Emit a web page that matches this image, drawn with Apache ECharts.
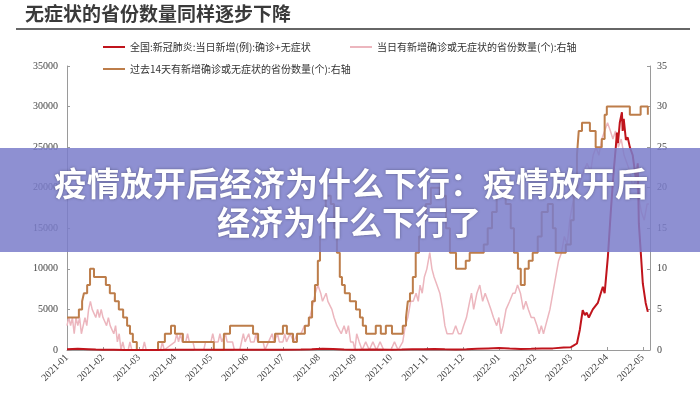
<!DOCTYPE html>
<html><head><meta charset="utf-8">
<script src="https://cdn.jsdelivr.net/npm/echarts@6/dist/echarts.min.js"></script>
<style>html,body{margin:0;padding:0;background:#fff}#c{width:700px;height:400px}</style>
</head><body><div id="c"></div>
<script>
// month tick labels (x positions are month index, 0 = 2021-01)
const months = ['2021-01','2021-02','2021-03','2021-04','2021-05','2021-06','2021-07','2021-08','2021-09','2021-10','2021-11','2021-12','2022-01','2022-02','2022-03','2022-04','2022-05'];

const nameRed = '全国:新冠肺炎:当日新增(例):确诊+无症状';
const nameOrange = '过去14天有新增确诊或无症状的省份数量(个):右轴';
const namePink = '当日有新增确诊或无症状的省份数量(个):右轴';

// national daily new cases (left axis)
const redData = [[0,80],[0.15,120],[0.3,150],[0.45,130],[0.6,100],[0.8,60],[1.0,30],[1.3,20],[1.6,10],[2.0,10],[2.5,15],[3.0,20],[3.5,25],[4.0,20],[4.5,30],[5.0,35],[5.5,40],[6.0,30],[6.5,50],[6.8,90],[7.1,140],[7.4,110],[7.7,60],[8.0,40],[8.5,50],[9.0,40],[9.3,50],[9.6,80],[9.9,100],[10.2,120],[10.5,90],[10.8,70],[11.1,100],[11.4,150],[11.7,200],[12.0,250],[12.3,180],[12.6,130],[12.9,150],[13.2,180],[13.5,200],[13.8,300],[14.0,350],[14.06,500],[14.17,800],[14.25,2500],[14.33,4900],[14.39,4300],[14.44,4600],[14.5,4000],[14.61,5000],[14.75,5800],[14.86,7400],[14.89,7800],[14.94,7000],[15.03,11500],[15.11,17000],[15.19,22000],[15.25,25000],[15.28,26800],[15.31,25500],[15.36,28000],[15.42,29300],[15.44,27000],[15.47,28500],[15.53,25900],[15.58,26200],[15.64,25000],[15.72,24000],[15.81,21000],[15.86,23000],[15.89,15600],[15.94,12300],[16.0,8200],[16.08,5800],[16.14,4700]];

// provinces with new cases in past 14 days (right axis, step)
const orangeData = [[0,4],[0.33,5],[0.42,6],[0.47,7],[0.56,8],[0.64,10],[0.75,9],[1.08,8],[1.19,7],[1.33,6],[1.44,5],[1.56,4],[1.67,3],[1.75,2],[1.83,1],[1.94,0],[2.53,1],[2.72,2],[2.89,3],[3.0,2],[3.22,1],[4.08,0],[4.36,2],[4.53,3],[5.17,2],[5.31,1],[5.78,2],[6.0,3],[6.11,2],[6.28,1],[6.39,2],[6.61,3],[6.72,4],[6.81,6],[6.89,8],[6.97,11],[7.03,14],[7.11,17],[7.19,19],[7.33,18],[7.42,15],[7.5,12],[7.58,9],[7.64,8],[7.72,7],[7.86,6],[8.03,5],[8.14,4],[8.22,3],[8.31,2],[8.58,3],[8.72,2],[8.86,3],[9.03,2],[9.33,3],[9.42,4],[9.47,6],[9.53,7],[9.61,9],[9.69,12],[9.78,14],[9.86,16],[9.97,18],[10.11,20],[10.36,19],[10.53,15],[10.64,12],[10.81,10],[11.08,11],[11.19,12],[11.58,13],[11.69,15],[11.81,17],[11.94,19],[12.19,18],[12.33,15],[12.42,12],[12.53,10],[12.61,8],[12.72,10],[12.83,11],[12.94,12],[13.08,14],[13.19,17],[13.36,18],[13.5,15],[13.58,12],[13.86,13],[14.0,16],[14.08,20],[14.17,24],[14.22,27],[14.31,28],[14.53,27],[14.69,25],[14.86,26],[14.94,29],[15.0,30],[15.64,29],[15.94,30],[16.14,29]];

// provinces with new cases that day (right axis)
const pinkData = [[0,3],[0.05,4],[0.1,3],[0.15,4],[0.2,2],[0.25,4],[0.3,3],[0.35,4],[0.4,2],[0.45,3],[0.5,4],[0.55,3],[0.6,5],[0.65,6],[0.7,5],[0.75,5],[0.8,4],[0.85,5],[0.9,4],[0.95,5],[1.0,4],[1.05,4],[1.1,3],[1.15,4],[1.2,3],[1.25,3],[1.3,2],[1.35,3],[1.4,1],[1.45,2],[1.5,0],[1.55,1],[1.6,0],[1.7,0],[1.75,1],[1.8,0],[2.1,0],[2.15,1],[2.2,0],[2.6,0],[2.65,1],[2.7,0],[3.0,1],[3.05,2],[3.1,1],[3.15,2],[3.2,1],[3.3,1],[3.35,2],[3.4,1],[3.5,1],[3.55,0],[3.8,0],[3.85,1],[4.0,1],[4.05,2],[4.1,1],[4.2,1],[4.25,2],[4.3,1],[4.4,2],[4.45,1],[4.6,1],[4.65,0],[4.8,0],[4.85,1],[4.9,2],[4.95,1],[5.05,2],[5.1,1],[5.2,1],[5.25,2],[5.3,1],[5.45,1],[5.5,0],[5.6,1],[5.7,2],[5.75,1],[5.85,2],[5.9,1],[6.0,1],[6.05,2],[6.1,1],[6.2,2],[6.3,1],[6.4,2],[6.5,2],[6.6,3],[6.7,3],[6.8,5],[6.9,7],[6.97,8],[7.05,7],[7.1,6],[7.2,7],[7.25,6],[7.3,6],[7.36,5],[7.42,4],[7.5,3],[7.55,3],[7.62,2],[7.7,3],[7.76,2],[7.82,3],[7.88,1],[7.95,1],[8.0,0],[8.05,2],[8.12,1],[8.2,0],[8.3,1],[8.4,0],[8.5,1],[8.6,0],[8.7,1],[8.8,0],[9.0,0],[9.1,1],[9.2,0],[9.33,1],[9.4,3],[9.47,4],[9.55,6],[9.62,6],[9.7,7],[9.76,6],[9.81,8],[9.87,7],[9.93,9],[10.0,10],[10.08,12],[10.14,10],[10.2,9],[10.28,8],[10.36,7],[10.44,5],[10.5,3],[10.56,2],[10.64,2],[10.72,2],[10.8,3],[10.88,2],[10.95,2],[11.02,3],[11.1,4],[11.19,6],[11.24,7],[11.3,5],[11.39,7],[11.47,8],[11.55,6],[11.62,7],[11.7,6],[11.78,5],[11.85,4],[11.94,3],[12.0,4],[12.06,2],[12.12,3],[12.2,5],[12.3,6],[12.39,7],[12.45,7],[12.52,8],[12.6,7],[12.68,5],[12.75,6],[12.82,5],[12.9,4],[12.98,4],[13.06,3],[13.12,2],[13.18,3],[13.24,2],[13.3,3],[13.36,4],[13.42,5],[13.5,7],[13.58,9],[13.66,11],[13.74,12],[13.82,14],[13.9,13],[13.97,16],[14.05,18],[14.12,19],[14.2,20],[14.28,21],[14.36,22],[14.45,23],[14.55,22],[14.62,24],[14.7,25],[14.78,24],[14.86,26],[14.94,27],[15.02,28],[15.1,27],[15.17,26],[15.24,27],[15.32,25],[15.4,26],[15.48,24],[15.56,23],[15.64,22],[15.72,20],[15.8,21],[15.88,19],[15.96,17],[16.04,16],[16.12,18],[16.17,18]];

const titleText = '无症状的省份数量同样逐步下降';
const bannerLine1 = '疫情放开后经济为什么下行：疫情放开后';
const bannerLine2 = '经济为什么下行了';

const tickIdx = months.map((m, i) => i);
const serif = '"Liberation Serif", "DejaVu Serif", serif';
const cjk = '"Noto Sans CJK SC", sans-serif';
const axisColor = '#9a9a9a';
const labelColor = '#444';

const chart = echarts.init(document.getElementById('c'), null, {renderer: 'canvas'});
const legendBase = {
  orient: 'horizontal', itemWidth: 22, itemHeight: 2, icon: 'rect', itemGap: 5, padding: 0,
  textStyle: {fontSize: 10, color: '#333', fontFamily: cjk}, selectedMode: false
};
chart.setOption({
  animation: false,
  backgroundColor: '#fff',
  grid: {left: 67, right: 50, top: 66, bottom: 50},
  legend: [
    Object.assign({}, legendBase, {data: [nameRed], left: 103, top: 42}),
    Object.assign({}, legendBase, {data: [nameOrange], left: 103, top: 64}),
    Object.assign({}, legendBase, {data: [namePink], left: 350, top: 42})
  ],
  xAxis: {
    type: 'value', min: 0, max: 16.2, interval: 1,
    axisLine: {show: true, lineStyle: {color: axisColor, width: 1}},
    axisTick: {show: true, inside: true, length: 3, lineStyle: {color: axisColor}, customValues: tickIdx},
    splitLine: {show: false},
    axisLabel: {
      customValues: tickIdx, rotate: 45, margin: 6, fontSize: 10, color: labelColor, fontFamily: serif,
      formatter: v => months[Math.round(v)] || ''
    }
  },
  yAxis: [
    {
      type: 'value', min: 0, max: 35000, interval: 5000, position: 'left',
      axisLine: {show: true, lineStyle: {color: axisColor}},
      axisTick: {show: true, inside: true, length: 3, lineStyle: {color: axisColor}},
      splitLine: {show: false},
      axisLabel: {fontSize: 10, color: labelColor, fontFamily: serif, margin: 9, formatter: v => String(v)}
    },
    {
      type: 'value', min: 0, max: 35, interval: 5, position: 'right',
      axisLine: {show: true, lineStyle: {color: axisColor}},
      axisTick: {show: true, inside: true, length: 3, lineStyle: {color: axisColor}},
      splitLine: {show: false},
      axisLabel: {fontSize: 10, color: labelColor, fontFamily: serif, margin: 7}
    }
  ],
  series: [
    {name: namePink, type: 'line', yAxisIndex: 1, data: pinkData, showSymbol: false, symbol: 'none',
     lineStyle: {color: '#ecb6be', width: 1.5}, itemStyle: {color: '#ecb6be'}, z: 2},
    {name: nameOrange, type: 'line', yAxisIndex: 1, data: orangeData, step: 'end', showSymbol: false, symbol: 'none',
     lineStyle: {color: '#bd7d4a', width: 2}, itemStyle: {color: '#bd7d4a'}, z: 3},
    {name: nameRed, type: 'line', yAxisIndex: 0, data: redData, showSymbol: false, symbol: 'none',
     lineStyle: {color: '#c0141c', width: 2}, itemStyle: {color: '#c0141c'}, z: 4}
  ],
  graphic: [
    {type: 'text', left: 25, top: 4, z: 100,
     style: {text: titleText, fontSize: 19, fontWeight: 'bold', fill: '#3a3a3a', fontFamily: cjk}},
    {type: 'line', z: 100, shape: {x1: 16, y1: 29, x2: 690, y2: 29}, style: {stroke: '#666', lineWidth: 2}},
    {type: 'rect', z: 100, shape: {x: 0, y: 148, width: 700, height: 104}, style: {fill: 'rgba(122,125,202,0.85)'}},
    {type: 'text', z: 101, x: 351, y: 183,
     style: {text: bannerLine1, fontSize: 33, fontWeight: 'bold', fill: '#fff', fontFamily: cjk,
             align: 'center', verticalAlign: 'middle', textShadowColor: 'rgba(0,0,0,0.35)', textShadowBlur: 3}},
    {type: 'text', z: 101, x: 349, y: 222,
     style: {text: bannerLine2, fontSize: 33, fontWeight: 'bold', fill: '#fff', fontFamily: cjk,
             align: 'center', verticalAlign: 'middle', textShadowColor: 'rgba(0,0,0,0.35)', textShadowBlur: 3}}
  ]
});
</script>
</body></html>
